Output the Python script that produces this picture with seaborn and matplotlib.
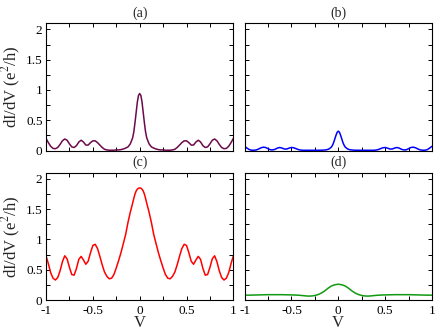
import numpy as np
import pandas as pd
import seaborn as sns
import matplotlib
matplotlib.use("Agg")
import matplotlib.pyplot as plt
from matplotlib.ticker import MultipleLocator, FormatStrFormatter

# bias values for the left half (V <= 0); curves are mirror-symmetric in V
v_half = [-1.0, -0.975, -0.95, -0.925, -0.9, -0.875, -0.85, -0.825, -0.8, -0.775,
          -0.75, -0.725, -0.7, -0.675, -0.65, -0.625, -0.6, -0.575, -0.55, -0.525,
          -0.5, -0.475, -0.45, -0.425, -0.4, -0.375, -0.35, -0.325, -0.3, -0.275,
          -0.25, -0.225, -0.2, -0.175, -0.15, -0.125, -0.1, -0.075, -0.0625, -0.05,
          -0.0375, -0.025, -0.0125, 0.0]

# (a) maroon curve
g_a = [0.20, 0.13, 0.07, 0.035, 0.03, 0.05, 0.10, 0.16, 0.19, 0.17,
       0.11, 0.06, 0.05, 0.08, 0.14, 0.17, 0.14, 0.09, 0.09, 0.13,
       0.16, 0.16, 0.13, 0.09, 0.05, 0.02, 0.01, 0.005, 0.005, 0.005,
       0.01, 0.01, 0.015, 0.025, 0.04, 0.06, 0.11, 0.21, 0.31, 0.46,
       0.63, 0.80, 0.91, 0.94]
# (b) blue curve
g_b = [0.07, 0.04, 0.015, 0.005, 0.005, 0.01, 0.025, 0.045, 0.055, 0.05,
       0.03, 0.012, 0.01, 0.02, 0.04, 0.05, 0.04, 0.025, 0.025, 0.04,
       0.05, 0.045, 0.03, 0.015, 0.007, 0.004, 0.004, 0.004, 0.004, 0.004,
       0.004, 0.004, 0.005, 0.005, 0.008, 0.012, 0.025, 0.055, 0.085, 0.13,
       0.19, 0.25, 0.30, 0.32]
# (c) red curve
g_c = [0.73, 0.60, 0.45, 0.36, 0.33, 0.37, 0.48, 0.63, 0.73, 0.68,
       0.54, 0.42, 0.41, 0.52, 0.67, 0.72, 0.66, 0.59, 0.64, 0.78,
       0.90, 0.92, 0.85, 0.72, 0.58, 0.46, 0.39, 0.35, 0.36, 0.42,
       0.53, 0.65, 0.78, 0.93, 1.08, 1.28, 1.45, 1.60, 1.68, 1.75,
       1.80, 1.83, 1.845, 1.85]
# (d) green curve
g_d = [0.08, 0.08, 0.08, 0.081, 0.082, 0.083, 0.084, 0.085, 0.086, 0.087,
       0.088, 0.088, 0.088, 0.088, 0.088, 0.088, 0.088, 0.087, 0.086, 0.085,
       0.084, 0.083, 0.081, 0.079, 0.076, 0.072, 0.068, 0.065, 0.065, 0.068,
       0.075, 0.085, 0.10, 0.12, 0.145, 0.175, 0.205, 0.23, 0.238, 0.245,
       0.25, 0.255, 0.258, 0.26]

panels = ["(a)", "(b)", "(c)", "(d)"]
colors = ["#6b0a4c", "#0000ff", "#ff0000", "#119911"]


def full(half, sign=1):
    h = np.array(half)
    return np.concatenate([h, sign * h[-2::-1]])


sns.set_theme(style="ticks")
plt.rcParams['font.family'] = ['Liberation Serif', 'DejaVu Serif']
plt.rcParams['mathtext.fontset'] = 'stix'
plt.rcParams['axes.unicode_minus'] = False

fig, axes = plt.subplots(2, 2, figsize=(4.36, 3.30), dpi=100, sharex=True, sharey=True)
fig.subplots_adjust(left=0.1055, right=0.9908, top=0.9294, bottom=0.0909,
                    wspace=0.06, hspace=0.175)

v = full(v_half, -1)
for ax, lab, col, g in zip(axes.flat, panels, colors, [g_a, g_b, g_c, g_d]):
    df = pd.DataFrame({"V": v, "G": full(g)})
    sns.lineplot(data=df, x="V", y="G", ax=ax, color=col, lw=1.1, sort=False)
    ax.set_xlim(-1, 1)
    ax.set_ylim(0, 2.1)
    ax.set_title(lab, fontsize=10, pad=5)
    ax.xaxis.set_major_locator(MultipleLocator(0.5))
    ax.xaxis.set_minor_locator(MultipleLocator(0.25))
    ax.yaxis.set_major_locator(MultipleLocator(0.5))
    ax.yaxis.set_minor_locator(MultipleLocator(0.25))
    ax.xaxis.set_major_formatter(FormatStrFormatter('%g'))
    ax.yaxis.set_major_formatter(FormatStrFormatter('%g'))
    ax.tick_params(which='both', direction='in', top=True, right=True,
                   length=3, width=0.7, labelsize=9.5, colors='black')
    ax.tick_params(axis='x', pad=3.5)
    ax.tick_params(axis='y', pad=2.5)
    for s in ax.spines.values():
        s.set_linewidth(0.8)
        s.set_color('black')
    ax.set_xlabel("")
    ax.set_ylabel("")

for ax in axes[1]:
    ax.set_xlabel("V", fontsize=12, labelpad=-1)
for ax in axes[:, 0]:
    ax.set_ylabel("dI/dV (e$^{2}$/h)", fontsize=12, labelpad=2)

fig.savefig("out.png", dpi=100)
